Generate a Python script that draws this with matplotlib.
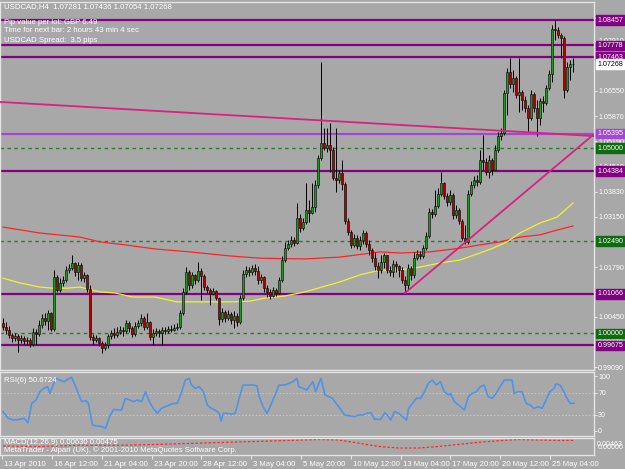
import numpy as np
import matplotlib.pyplot as plt
from matplotlib import transforms

plt.rcParams["font.family"] = ["Liberation Sans", "DejaVu Sans"]

# ---- candle data (USDCAD H4) ----
first_open = 1.0028
closes = [
    1.0017, 1.0009, 0.9996, 0.9987, 0.9993, 0.9982, 0.9987, 0.9979, 0.9982, 0.9971,
    1.0004, 0.9998, 1.0023, 1.0041, 1.0033, 1.0055, 1.0012, 1.0152, 1.0117, 1.0136,
    1.0144, 1.0171, 1.0176, 1.0190, 1.0166, 1.0185, 1.0149, 1.0158, 1.0120, 0.9990,
    0.9982, 0.9987, 0.9974, 0.9960, 0.9969, 0.9993, 1.0001, 0.9996, 1.0004, 1.0009,
    1.0006, 1.0028, 1.0014, 0.9998, 1.0020, 1.0028, 1.0041, 1.0017, 1.0031, 0.9990,
    1.0001, 1.0006, 1.0001, 1.0009, 1.0006, 1.0012, 1.0009, 1.0014, 1.0017, 1.0055,
    1.0112, 1.0166, 1.0130, 1.0158, 1.0144, 1.0168, 1.0155, 1.0125, 1.0117, 1.0106,
    1.0114, 1.0095, 1.0039, 1.0058, 1.0041, 1.0052, 1.0036, 1.0047, 1.0031, 1.0095,
    1.0160, 1.0171, 1.0166, 1.0176, 1.0168, 1.0144, 1.0152, 1.0122, 1.0112, 1.0101,
    1.0117, 1.0109, 1.0144, 1.0198, 1.0230, 1.0241, 1.0252, 1.0244, 1.0311, 1.0284,
    1.0301, 1.0333, 1.0325, 1.0341, 1.0400, 1.0473, 1.0514, 1.0500, 1.0509, 1.0495,
    1.0419, 1.0414, 1.0433, 1.0403, 1.0303, 1.0274, 1.0239, 1.0257, 1.0236, 1.0252,
    1.0271, 1.0241, 1.0225, 1.0203, 1.0182, 1.0171, 1.0193, 1.0212, 1.0171, 1.0166,
    1.0187, 1.0182, 1.0171, 1.0144, 1.0130, 1.0176, 1.0158, 1.0203, 1.0214, 1.0209,
    1.0230, 1.0263, 1.0328, 1.0322, 1.0344, 1.0376, 1.0406, 1.0371, 1.0355, 1.0374,
    1.0320, 1.0333, 1.0303, 1.0257, 1.0247, 1.0376, 1.0400, 1.0414, 1.0409, 1.0468,
    1.0463, 1.0436, 1.0468, 1.0441, 1.0495, 1.0533, 1.0541, 1.0649, 1.0706, 1.0673,
    1.0689, 1.0644, 1.0652, 1.0630, 1.0608, 1.0581, 1.0646, 1.0608, 1.0581, 1.0627,
    1.0622, 1.0662, 1.0700, 1.0822, 1.0819, 1.0806, 1.0797, 1.0657, 1.0719, 1.07281,
    1.07268,
]
highs = [
    1.0041, 1.0031, 1.0020, 1.0001, 1.0001, 0.9998, 0.9996, 0.9993, 0.9990, 0.9987,
    1.0014, 1.0012, 1.0036, 1.0052, 1.0055, 1.0063, 1.0058, 1.0171, 1.0158, 1.0149,
    1.0155, 1.0182, 1.0187, 1.0212, 1.0193, 1.0193, 1.0190, 1.0166, 1.0160, 1.0130,
    0.9998, 0.9996, 0.9990, 0.9979, 0.9977, 0.9998, 1.0009, 1.0014, 1.0017, 1.0020,
    1.0017, 1.0036, 1.0033, 1.0020, 1.0031, 1.0036, 1.0052, 1.0047, 1.0055, 1.0033,
    1.0012, 1.0014, 1.0012, 1.0017, 1.0017, 1.0020, 1.0023, 1.0025, 1.0028, 1.0063,
    1.0122, 1.0179, 1.0171, 1.0166, 1.0160, 1.0193, 1.0176, 1.0160, 1.0130, 1.0122,
    1.0122, 1.0117, 1.0098, 1.0068, 1.0063, 1.0063, 1.0058, 1.0060, 1.0055, 1.0104,
    1.0171, 1.0182, 1.0179, 1.0185, 1.0187, 1.0182, 1.0160, 1.0155, 1.0130, 1.0120,
    1.0125, 1.0122, 1.0152, 1.0209, 1.0247, 1.0252, 1.0263, 1.0260, 1.0352, 1.0322,
    1.0311, 1.0406, 1.0360, 1.0406, 1.0414, 1.0482, 1.0733, 1.0554, 1.0554, 1.0568,
    1.0503, 1.0554, 1.0441, 1.0468, 1.0409, 1.0311, 1.0279, 1.0268, 1.0266, 1.0263,
    1.0279, 1.0276, 1.0252, 1.0230, 1.0220, 1.0193, 1.0212, 1.0217, 1.0212, 1.0182,
    1.0198, 1.0195, 1.0185, 1.0179, 1.0155, 1.0187, 1.0182, 1.0220, 1.0225, 1.0222,
    1.0239, 1.0274, 1.0338, 1.0336, 1.0387, 1.0392, 1.0436, 1.0409, 1.0379, 1.0387,
    1.0379, 1.0347, 1.0338, 1.0309, 1.0293, 1.0387, 1.0411, 1.0425, 1.0428, 1.0495,
    1.0536, 1.0473, 1.0482, 1.0473, 1.0509, 1.0544, 1.0554, 1.0657, 1.0716, 1.0743,
    1.0711, 1.0695, 1.0743, 1.0657, 1.0641, 1.0617, 1.0657, 1.0652, 1.0630, 1.0635,
    1.0641, 1.0670, 1.0711, 1.0833, 1.0846, 1.0827, 1.0811, 1.0803, 1.0733, 1.0738,
    1.07436,
]
lows = [
    1.0009, 0.9998, 0.9987, 0.9977, 0.9979, 0.9950, 0.9974, 0.9971, 0.9969, 0.9963,
    0.9966, 0.9969, 0.9993, 1.0014, 1.0023, 1.0009, 1.0006, 1.0006, 1.0112, 1.0112,
    1.0128, 1.0139, 1.0163, 1.0171, 1.0155, 1.0144, 1.0141, 1.0139, 1.0112, 0.9982,
    0.9971, 0.9977, 0.9966, 0.9947, 0.9955, 0.9960, 0.9985, 0.9987, 0.9990, 0.9998,
    0.9993, 1.0001, 1.0004, 0.9990, 0.9993, 1.0014, 1.0020, 1.0009, 1.0012, 0.9982,
    0.9969, 0.9993, 0.9990, 0.9969, 0.9998, 1.0001, 1.0004, 1.0006, 1.0009, 1.0012,
    1.0050, 1.0106, 1.0117, 1.0122, 1.0133, 1.0139, 1.0090, 1.0117, 1.0109, 1.0077,
    1.0104, 1.0090, 1.0023, 1.0031, 1.0031, 1.0036, 1.0025, 1.0014, 1.0020, 1.0025,
    1.0090, 1.0152, 1.0155, 1.0158, 1.0158, 1.0133, 1.0136, 1.0112, 1.0098, 1.0093,
    1.0098, 1.0101, 1.0106, 1.0139, 1.0193, 1.0225, 1.0233, 1.0236, 1.0241, 1.0274,
    1.0279, 1.0295, 1.0301, 1.0322, 1.0328, 1.0392, 1.0468, 1.0495, 1.0490, 1.0436,
    1.0414, 1.0382, 1.0406, 1.0387, 1.0295, 1.0266, 1.0230, 1.0233, 1.0228, 1.0225,
    1.0241, 1.0233, 1.0212, 1.0193, 1.0171, 1.0149, 1.0163, 1.0176, 1.0163, 1.0155,
    1.0152, 1.0166, 1.0152, 1.0136, 1.0109, 1.0117, 1.0144, 1.0149, 1.0198, 1.0201,
    1.0203, 1.0225, 1.0257, 1.0311, 1.0317, 1.0338, 1.0371, 1.0363, 1.0344, 1.0347,
    1.0309, 1.0311, 1.0295, 1.0252, 1.0241, 1.0241, 1.0371, 1.0392, 1.0398, 1.0403,
    1.0441, 1.0428, 1.0419, 1.0428, 1.0441, 1.0490, 1.0522, 1.0536, 1.0590, 1.0662,
    1.0652, 1.0635, 1.0598, 1.0603, 1.0598, 1.0544, 1.0576, 1.0598, 1.0533, 1.0563,
    1.0598, 1.0617, 1.0657, 1.0679, 1.0792, 1.0797, 1.0743, 1.0635, 1.0652, 1.0684,
    1.07054,
]

# moving averages (sampled along the lines)
ma_red_bars = [0, 12.3, 25.7, 32.3, 40.7, 50.7, 62.3, 75.7, 85.7, 100.7, 112.3,
               125.7, 132.3, 142.3, 152.3, 159, 165.7, 172.3, 179, 184.7, 190]
ma_red = [1.0287, 1.0271, 1.0260, 1.0247, 1.0239, 1.0228, 1.0220, 1.0209, 1.0203,
          1.0201, 1.0206, 1.0220, 1.0217, 1.0220, 1.0230, 1.0239, 1.0247, 1.0260,
          1.0266, 1.0279, 1.0290]
ma_yel_bars = [0, 5.7, 12.3, 16.7, 21.3, 25.7, 32.3, 37.3, 43.3, 50.7, 58, 65.7,
               75.7, 82.3, 87.3, 94, 100.7, 112.3, 119, 125.7, 132.3, 139, 145.7,
               152.3, 159, 163.3, 168, 172.3, 179, 184.7, 190]
ma_yel = [1.0149, 1.0136, 1.0125, 1.0122, 1.0122, 1.0125, 1.0112, 1.0109, 1.0098,
          1.0098, 1.0085, 1.0085, 1.0085, 1.0087, 1.0095, 1.0101, 1.0112, 1.0139,
          1.0158, 1.0171, 1.0171, 1.0179, 1.0190, 1.0198, 1.0217, 1.0230, 1.0247,
          1.0271, 1.0298, 1.0314, 1.0352]

# drawn objects
trend_down_bars = [-1, 196.7]
trend_down = [1.0625, 1.0533]
trend_up_bars = [134, 196.7]
trend_up = [1.0109, 1.0536]
purple_levels = [1.08457, 1.07778, 1.07463, 1.04384, 1.01066, 0.99675]
violet_level = 1.05395
green_levels = [1.05000, 1.02490, 1.00000]
last_price = 1.07268
price_ticks = [1.08530, 1.07910, 1.06550, 1.05870, 1.05190, 1.04510, 1.03830,
               1.03150, 1.01790, 1.01130, 1.00450, 0.99770, 0.99090]

# RSI(6)
rsi_bars = [0, 1.7, 3.6, 5.6, 7.0, 8.3, 9.6, 11.0, 12.3, 13.6,
            14.9, 15.6, 16.3, 17.6, 18.9, 20.3, 21.6, 22.9, 24.9, 26.2,
            27.6, 28.5, 29.8, 31.5, 32.9, 34.2, 35.5, 36.9, 38.2, 39.5,
            40.8, 42.2, 43.5, 44.8, 46.2, 47.5, 48.8, 50.1, 51.5, 52.8,
            54.1, 55.5, 56.8, 58.1, 59.4, 60.8, 62.1, 62.8, 64.1, 65.4,
            66.8, 68.1, 69.4, 70.7, 72.1, 72.7, 73.4, 74.7, 76.1, 77.4,
            78.7, 80.0, 81.4, 83.4, 84.7, 85.4, 86.7, 88.0, 89.3, 90.7,
            92.0, 94.0, 95.3, 96.6, 98.0, 98.6, 100.0, 101.3, 102.0, 103.3,
            104.2, 106.0, 107.3, 108.6, 109.9, 110.6, 111.9, 113.9, 115.9, 117.2,
            118.6, 119.9, 121.2, 122.6, 123.9, 125.9, 127.2, 128.5, 129.2, 130.5,
            131.9, 133.2, 134.5, 135.2, 136.5, 137.8, 139.2, 140.5, 141.8, 143.1,
            144.5, 145.8, 147.1, 148.5, 149.1, 150.5, 151.8, 153.8, 155.1, 156.4,
            157.8, 159.1, 160.4, 161.7, 163.1, 164.4, 165.7, 167.1, 169.1, 169.7,
            170.4, 171.7, 173.0, 174.4, 175.7, 177.0, 178.4, 179.7, 181.0, 182.3,
            183.7, 184.3, 185.7, 187.0, 187.7, 189.0, 190.3]
rsi_vals = [35.2, 23, 20, 21.2, 23, 15.2, 50.3, 56.4, 71.5, 77.6,
            80.6, 68.5, 77.6, 95.8, 92.7, 89.7, 93.9, 97.6, 71.5, 53.3,
            55.2, 50.3, 10.9, 9.1, 7.9, 4.8, 26.1, 39.4, 38.2, 38.2,
            59.4, 56.4, 53.3, 56.4, 53.3, 71.5, 53.3, 41.2, 32.1, 41.2,
            44.2, 47.3, 50.3, 50.3, 68.5, 92.7, 95.8, 83.6, 77.6, 80.6,
            71.5, 47.3, 41.2, 38.2, 32.1, 18.2, 32.1, 32.1, 30.9, 32.1,
            59.4, 83.6, 83.6, 83.6, 81.8, 62.4, 44.2, 32.1, 47.3, 65.5,
            83.6, 83.6, 86.7, 89.7, 95.8, 80.6, 77.6, 74.5, 80.6, 89.7,
            71.5, 95.8, 65.5, 62.4, 59.4, 53.3, 44.2, 29.1, 27.3, 26.1,
            29.1, 29.1, 32.1, 33.3, 21.2, 21.2, 33.3, 26.1, 20.0, 35.2,
            32.1, 26.1, 20.0, 41.2, 50.3, 59.4, 59.4, 71.5, 86.7, 92.7,
            83.6, 89.7, 71.5, 65.5, 68.5, 53.3, 47.3, 38.2, 62.4, 68.5,
            71.5, 80.6, 83.6, 62.4, 59.4, 68.5, 80.6, 92.7, 92.7, 92.7,
            68.5, 71.5, 71.5, 50.3, 47.3, 41.2, 44.2, 41.2, 56.4, 71.5,
            77.6, 85.5, 83.6, 71.5, 62.4, 50.3, 50.7]

# MACD signal line
macd_bars = [0, 12.3, 25.6, 38.9, 52.1, 65.4, 78.7, 92.0, 105.3, 111.9, 118.6,
             125.2, 131.9, 138.5, 145.1, 151.8, 158.4, 165.1, 171.7, 178.4, 185.0, 190.3]
macd_signal = [0.0013, 0.0010, 0.0018, 0.0018, 0.0024, 0.0032, 0.0040, 0.0048,
               0.0056, 0.0053, 0.0032, 0.0010, 0.0000, 0.0000, 0.0010, 0.0024,
               0.0037, 0.0048, 0.0056, 0.0053, 0.0050, 0.0050]

time_ticks = [-0.3, 16.3, 32.9, 49.5, 66.1, 82.7, 99.3, 115.9, 132.5, 149.1, 165.7, 182.3]
time_labels = ["13 Apr 2010", "16 Apr 12:00", "21 Apr 04:00", "23 Apr 20:00",
               "28 Apr 12:00", "3 May 04:00", "5 May 20:00", "10 May 12:00",
               "13 May 04:00", "17 May 20:00", "20 May 12:00", "25 May 04:00"]

BG = "#a8a8a8"
FRAME = "#e4e4e4"
UP = "#1e9a1e"
DOWN = "#b40000"
PURPLE = "#820082"
VIOLET = "#a646d6"
DGREEN = "#2e7a2e"
PINK = "#dc2080"
FS = 5.6
FS_R = 5.1  # right-hand price scale

W, H = 625, 469
fig = plt.figure(figsize=(W / 100, H / 100), dpi=100, facecolor=BG)


def px_axes(x0, y0, x1, y1):
    return fig.add_axes([x0 / W, 1 - y1 / H, (x1 - x0) / W, (y1 - y0) / H])


def style(a):
    a.set_facecolor(BG)
    for s in a.spines.values():
        s.set_color(FRAME)
        s.set_linewidth(1.0)
    a.set_xlim(-1, 197)
    a.set_xticks([])
    a.yaxis.tick_right()
    a.tick_params(axis="y", colors=FRAME, labelcolor="white", labelsize=FS_R,
                  length=2, width=0.8, pad=1.0)


ax = px_axes(0, 2, 594, 370)
ax_rsi = px_axes(0, 372, 594, 436)
ax_macd = px_axes(0, 438, 594, 455)
for a in (ax, ax_rsi, ax_macd):
    style(a)

# ---- main price panel ----
o = np.array([first_open] + closes[:-1])
c = np.array(closes)
h = np.maximum(np.array(highs), np.maximum(o, c))
l = np.minimum(np.array(lows), np.minimum(o, c))
x = np.arange(len(c))
up = c >= o

for lev in green_levels:
    ax.axhline(lev, color=DGREEN, lw=1.0, ls=(0, (2.5, 2.5)), zorder=1)
for lev in purple_levels:
    ax.axhline(lev, color=PURPLE, lw=1.6, zorder=1)
ax.axhline(violet_level, color=VIOLET, lw=1.6, zorder=1)

ax.plot(ma_red_bars, ma_red, color="#ff2424", lw=0.9, zorder=2)
ax.plot(ma_yel_bars, ma_yel, color="#f2f22a", lw=0.9, zorder=2)

ax.vlines(x, l, h, color="black", lw=0.7, zorder=3)
body = np.maximum(np.abs(c - o), 0.00012)
ax.bar(x[up], body[up], bottom=o[up], width=0.72, color=UP,
       edgecolor="black", linewidth=0.4, zorder=4)
ax.bar(x[~up], body[~up], bottom=c[~up], width=0.72, color=DOWN,
       edgecolor="black", linewidth=0.4, zorder=4)

ax.plot(trend_down_bars, trend_down, color=PINK, lw=1.3, zorder=5)
ax.plot(trend_up_bars, trend_up, color=PINK, lw=1.3, zorder=5)

ax.set_ylim(0.9901, 1.0895)
ax.set_yticks(price_ticks)
ax.set_yticklabels([f"{p:.5f}" for p in price_ticks])

ytr = ax.get_yaxis_transform()


def price_box(val, fc, tc="white"):
    ax.text(1.0055, val, f"{val:.5f}", transform=ytr, ha="left", va="center",
            fontsize=FS_R, color=tc, zorder=10,
            bbox=dict(boxstyle="square,pad=0.18", fc=fc, ec=fc))


for lev in purple_levels:
    price_box(lev, PURPLE)
price_box(violet_level, VIOLET)
for lev in green_levels:
    price_box(lev, "#0f6b0f")
price_box(last_price, "white", "black")

info = ["USDCAD,H4  1.07281 1.07436 1.07054 1.07268",
        "Pip value per lot: GBP 6.49",
        "Time for next bar: 2 hours 43 min 4 sec",
        "USDCAD Spread:  3.5 pips"]
for txt, ypx in zip(info, [7, 22, 31, 41]):
    fig.text(4 / W, 1 - ypx / H, txt, fontsize=FS, color="white", va="center")

# ---- RSI panel ----
ax_rsi.axhline(70, color="#c8c8c8", lw=0.7, ls=(0, (1.5, 2)))
ax_rsi.axhline(30, color="#c8c8c8", lw=0.7, ls=(0, (1.5, 2)))
ax_rsi.plot(rsi_bars, rsi_vals, color="#4f94e8", lw=1.2)
ax_rsi.set_ylim(-9.1, 107.3)
ax_rsi.set_yticks([0, 30, 70, 100])
ax_rsi.set_yticklabels(["0", "30", "70", "100"])
ax_rsi.text(0.007, 0.86, "RSI(6) 50.6724", transform=ax_rsi.transAxes,
            fontsize=FS, color="white", va="center")

# ---- MACD panel ----
ax_macd.plot(macd_bars, macd_signal, color="#ff2a2a", lw=0.9, ls=(0, (2, 1.5)))
ax_macd.set_ylim(-0.0046, 0.0066)
ax_macd.set_yticks([])
ax_macd.text(0.007, 0.72, "MACD(12,26,9) 0.00630 0.00475", transform=ax_macd.transAxes,
             fontsize=FS, color="white", va="center")
ax_macd.text(0.007, 0.30, "MetaTrader - Alpari (UK), \u00a9 2001-2010 MetaQuotes Software Corp.",
             transform=ax_macd.transAxes, fontsize=FS, color="white", va="center")
ax_macd.text(1.005, 0.62, "0.00463", transform=ax_macd.transAxes, fontsize=FS_R,
             color="white", va="center")
ax_macd.text(1.007, 0.45, "0.00000", transform=ax_macd.transAxes, fontsize=FS_R,
             color="white", va="center")

ax_macd.set_xticks(time_ticks)
ax_macd.set_xticklabels(time_labels)
ax_macd.tick_params(axis="x", colors=FRAME, labelcolor="white", labelsize=FS,
                    length=3, width=0.8, pad=1.5)
shift = transforms.ScaledTranslation(2 / 100, 0, fig.dpi_scale_trans)
for lab in ax_macd.get_xticklabels():
    lab.set_horizontalalignment("left")
    lab.set_transform(lab.get_transform() + shift)

fig.savefig("out.png", dpi=100, facecolor=BG)
